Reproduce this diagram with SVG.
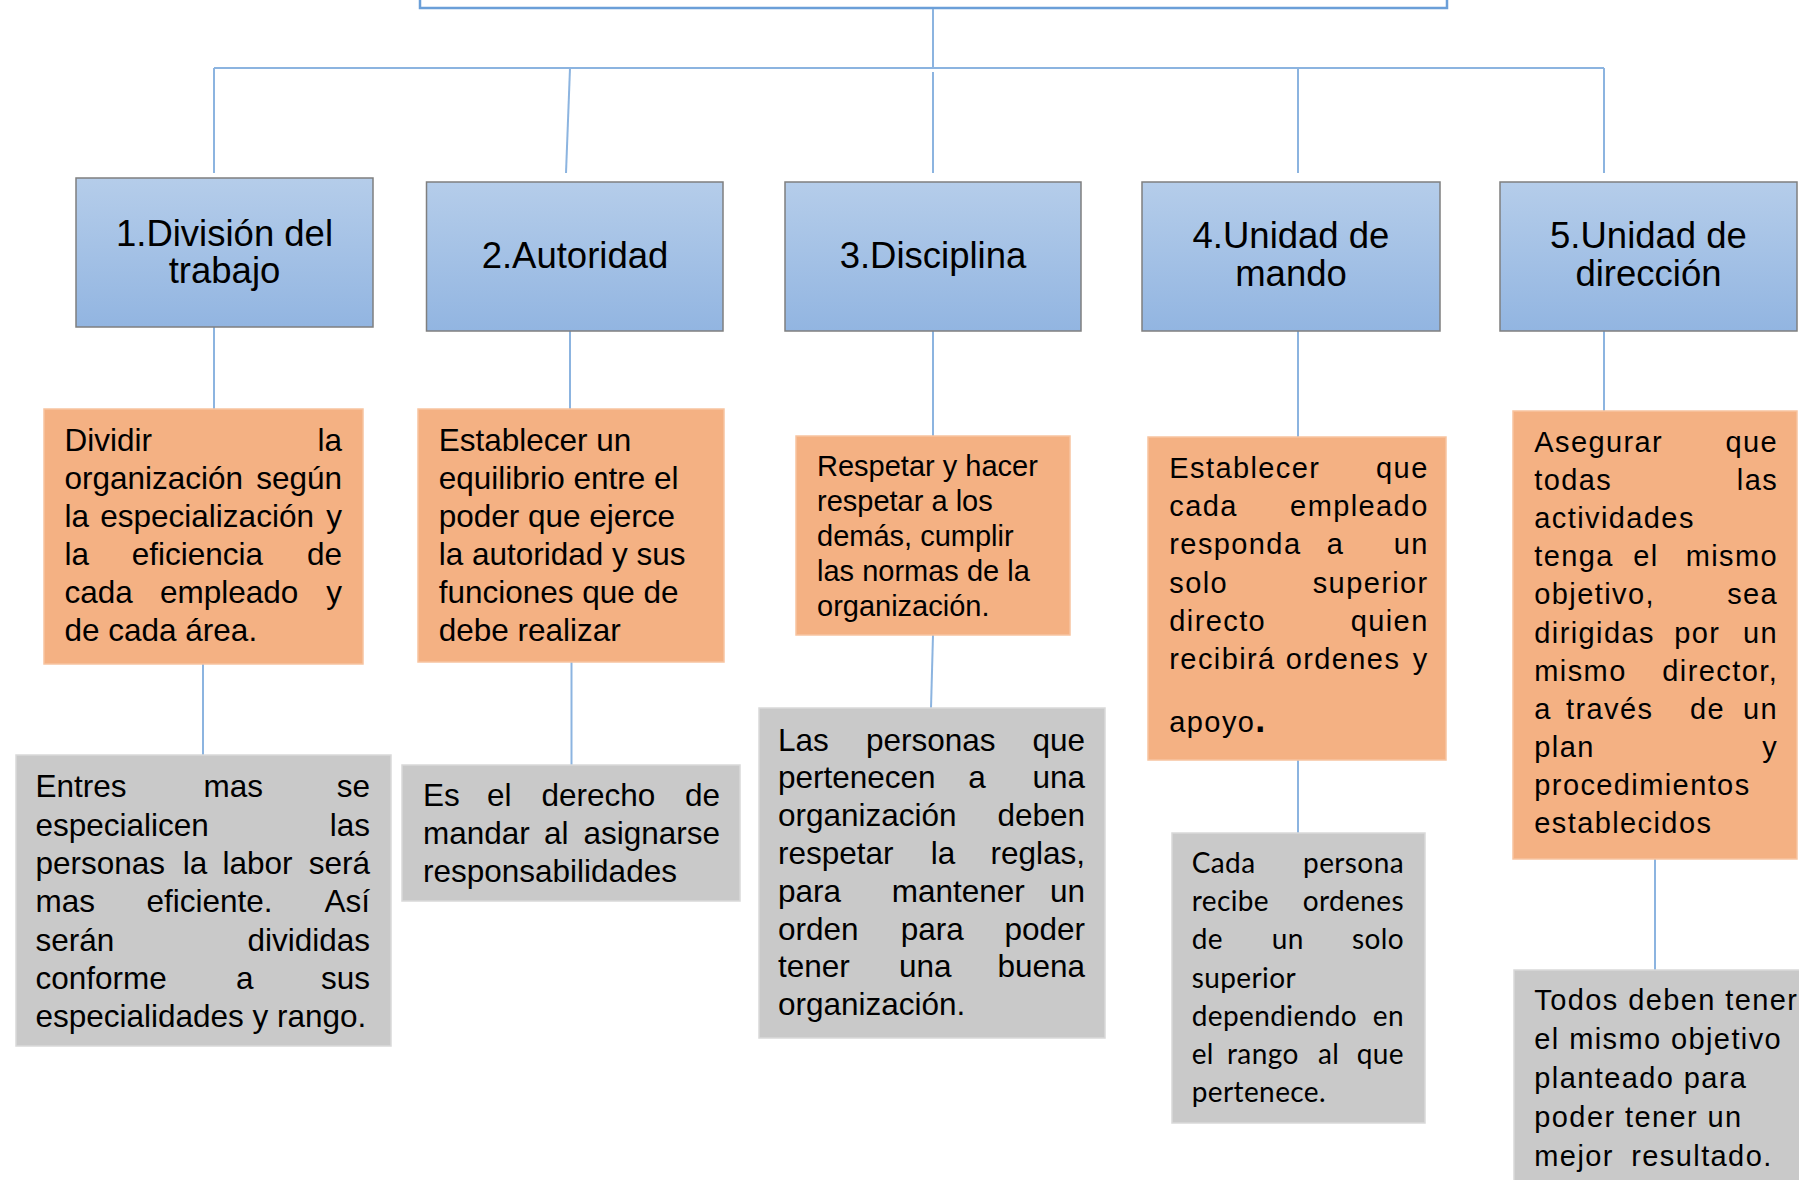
<svg xmlns="http://www.w3.org/2000/svg" width="1799" height="1180" viewBox="0 0 1799 1180">
<defs>
<linearGradient id="blue" x1="0" y1="0" x2="0" y2="1">
<stop offset="0" stop-color="#b5cdea"/>
<stop offset="1" stop-color="#92b5e1"/>
</linearGradient>
<style>
.hdrbox{fill:url(#blue);stroke:#7f7f7f;stroke-width:1.5}
.org{fill:#f4b183;stroke:#f7c4a0;stroke-width:1.5}
.gry{fill:#c9c9c9;stroke:#d9d9d9;stroke-width:1.5}
.con line{stroke:#8cb4e0;stroke-width:2}
text{font-family:"Liberation Sans",Arial,sans-serif;fill:#000}
.hdr{font-size:36.5px;text-anchor:middle}
.t32{font-size:31.5px}
.t29{font-size:29px}
.sp{letter-spacing:1.4px}
.cal{font-family:Lato,"Open Sans",sans-serif;font-size:28px;letter-spacing:0.4px}
.r{text-anchor:end}
</style>
</defs>
<rect x="0" y="0" width="1799" height="1180" fill="#ffffff"/>

<g id="root">
<rect x="420" y="-20" width="1027" height="28" fill="#ffffff" stroke="#6b9fd8" stroke-width="2.5"/>
</g>

<g id="connectors" class="con">
<line x1="933" y1="9" x2="933" y2="68"/>
<line x1="214" y1="68" x2="1604" y2="68"/>
<line x1="214" y1="68" x2="214" y2="173"/>
<line x1="570" y1="68" x2="566" y2="173"/>
<line x1="933" y1="72" x2="933" y2="173"/>
<line x1="1298" y1="68" x2="1298" y2="173"/>
<line x1="1604" y1="68" x2="1604" y2="173"/>
<line x1="214" y1="321" x2="214" y2="409"/>
<line x1="570" y1="321" x2="570" y2="409"/>
<line x1="933" y1="321" x2="933" y2="437"/>
<line x1="1298" y1="321" x2="1298" y2="437"/>
<line x1="1604" y1="321" x2="1604" y2="411"/>
<line x1="203" y1="664" x2="203" y2="755"/>
<line x1="571.5" y1="662" x2="571.5" y2="765"/>
<line x1="933" y1="635" x2="931" y2="708"/>
<line x1="1298" y1="760" x2="1298" y2="833"/>
<line x1="1655" y1="859" x2="1655" y2="970"/>
</g>

<g id="h1">
<rect class="hdrbox" x="76" y="178" width="297" height="149"/>
<text class="hdr" x="224.5" y="246">1.División del</text>
<text class="hdr" x="224.5" y="283">trabajo</text>
</g>
<g id="h2">
<rect class="hdrbox" x="426.5" y="182" width="296.5" height="149"/>
<text class="hdr" x="575" y="268">2.Autoridad</text>
</g>
<g id="h3">
<rect class="hdrbox" x="785" y="182" width="296" height="149"/>
<text class="hdr" x="933" y="268">3.Disciplina</text>
</g>
<g id="h4">
<rect class="hdrbox" x="1142" y="182" width="298" height="149"/>
<text class="hdr" x="1291" y="248">4.Unidad de</text>
<text class="hdr" x="1291" y="286">mando</text>
</g>
<g id="h5">
<rect class="hdrbox" x="1500" y="182" width="297" height="149"/>
<text class="hdr" x="1648.5" y="248">5.Unidad de</text>
<text class="hdr" x="1648.5" y="286">dirección</text>
</g>

<g id="o1">
<rect class="org" x="44" y="409" width="319" height="255"/>
<text class="t32" x="64.5" y="451">Dividir</text><text class="t32 r" x="342" y="451">la</text>
<text class="t32" x="64.5" y="489">organización</text><text class="t32 r" x="342" y="489">según</text>
<text class="t32" x="64.5" y="527">la</text><text class="t32" x="100.3" y="527">especialización</text><text class="t32 r" x="342" y="527">y</text>
<text class="t32" x="64.5" y="565">la</text><text class="t32" x="131.8" y="565">eficiencia</text><text class="t32 r" x="342" y="565">de</text>
<text class="t32" x="64.5" y="603">cada</text><text class="t32" x="160" y="603">empleado</text><text class="t32 r" x="342" y="603">y</text>
<text class="t32" x="64.5" y="641">de cada área.</text>
</g>

<g id="o2">
<rect class="org" x="418" y="409" width="306" height="253"/>
<text class="t32" x="438.7" y="451">Establecer un</text>
<text class="t32" x="438.7" y="489">equilibrio entre el</text>
<text class="t32" x="438.7" y="527">poder que ejerce</text>
<text class="t32" x="438.7" y="565">la autoridad y sus</text>
<text class="t32" x="438.7" y="603">funciones que de</text>
<text class="t32" x="438.7" y="641">debe realizar</text>
</g>

<g id="o3">
<rect class="org" x="796" y="436" width="274" height="199"/>
<text class="t29" x="817" y="476">Respetar y hacer</text>
<text class="t29" x="817" y="511">respetar a los</text>
<text class="t29" x="817" y="546">demás, cumplir</text>
<text class="t29" x="817" y="581">las normas de la</text>
<text class="t29" x="817" y="616">organización.</text>
</g>

<g id="o4">
<rect class="org" x="1148" y="437" width="298" height="323"/>
<text class="t29 sp" x="1169.3" y="477.7">Establecer</text><text class="t29 sp r" x="1428.7" y="477.7">que</text>
<text class="t29 sp" x="1169.3" y="516">cada</text><text class="t29 sp r" x="1428.7" y="516">empleado</text>
<text class="t29 sp" x="1169.3" y="554.3">responda</text><text class="t29 sp" x="1326.7" y="554.3">a</text><text class="t29 sp r" x="1428.7" y="554.3">un</text>
<text class="t29 sp" x="1169.3" y="592.6">solo</text><text class="t29 sp r" x="1428.7" y="592.6">superior</text>
<text class="t29 sp" x="1169.3" y="630.9">directo</text><text class="t29 sp r" x="1428.7" y="630.9">quien</text>
<text class="t29 sp" x="1169.3" y="669.2">recibirá</text><text class="t29 sp" x="1285.7" y="669.2">ordenes</text><text class="t29 sp r" x="1428.7" y="669.2">y</text>
<text class="t29 sp" x="1169.3" y="731.7">apoyo<tspan font-weight="bold" font-size="36">.</tspan></text>
</g>

<g id="o5">
<rect class="org" x="1513" y="411" width="284" height="448"/>
<text class="t29 sp" x="1534.3" y="451.7">Asegurar</text><text class="t29 sp r" x="1778.1" y="451.7">que</text>
<text class="t29 sp" x="1534.3" y="489.9">todas</text><text class="t29 sp r" x="1778.1" y="489.9">las</text>
<text class="t29 sp" x="1534.3" y="528">actividades</text>
<text class="t29 sp" x="1534.3" y="566.2">tenga</text><text class="t29 sp" x="1633.3" y="566.2">el</text><text class="t29 sp r" x="1778.1" y="566.2">mismo</text>
<text class="t29 sp" x="1534.3" y="604.3">objetivo,</text><text class="t29 sp r" x="1778.1" y="604.3">sea</text>
<text class="t29 sp" x="1534.3" y="642.5">dirigidas</text><text class="t29 sp" x="1674.3" y="642.5">por</text><text class="t29 sp r" x="1778.1" y="642.5">un</text>
<text class="t29 sp" x="1534.3" y="680.6">mismo</text><text class="t29 sp r" x="1778.1" y="680.6">director,</text>
<text class="t29 sp" x="1534.3" y="718.8">a</text><text class="t29 sp" x="1566" y="718.8">través</text><text class="t29 sp" x="1690" y="718.8">de</text><text class="t29 sp r" x="1778.1" y="718.8">un</text>
<text class="t29 sp" x="1534.3" y="757">plan</text><text class="t29 sp r" x="1778.1" y="757">y</text>
<text class="t29 sp" x="1534.3" y="795.1">procedimientos</text>
<text class="t29 sp" x="1534.3" y="833.2">establecidos</text>
</g>

<g id="g1">
<rect class="gry" x="16" y="755" width="375" height="291"/>
<text class="t32" x="35.4" y="797.4">Entres</text><text class="t32" x="203.6" y="797.4">mas</text><text class="t32 r" x="370" y="797.4">se</text>
<text class="t32" x="35.4" y="835.7">especialicen</text><text class="t32 r" x="370" y="835.7">las</text>
<text class="t32" x="35.4" y="874">personas</text><text class="t32" x="182.7" y="874">la</text><text class="t32" x="222.5" y="874">labor</text><text class="t32 r" x="370" y="874">será</text>
<text class="t32" x="35.4" y="912.3">mas</text><text class="t32" x="146.4" y="912.3">eficiente.</text><text class="t32 r" x="370" y="912.3">Así</text>
<text class="t32" x="35.4" y="950.6">serán</text><text class="t32 r" x="370" y="950.6">divididas</text>
<text class="t32" x="35.4" y="988.9">conforme</text><text class="t32" x="236" y="988.9">a</text><text class="t32 r" x="370" y="988.9">sus</text>
<text class="t32" x="35.4" y="1027.2">especialidades y rango.</text>
</g>

<g id="g2">
<rect class="gry" x="402" y="765" width="338" height="136"/>
<text class="t32" x="423" y="806.3">Es</text><text class="t32" x="487" y="806.3">el</text><text class="t32" x="541.5" y="806.3">derecho</text><text class="t32 r" x="720" y="806.3">de</text>
<text class="t32" x="423" y="844.3">mandar</text><text class="t32" x="544" y="844.3">al</text><text class="t32 r" x="720" y="844.3">asignarse</text>
<text class="t32" x="423" y="882.3">responsabilidades</text>
</g>

<g id="g3">
<rect class="gry" x="759" y="708" width="346" height="330"/>
<text class="t32" x="778" y="750.5">Las</text><text class="t32" x="866" y="750.5">personas</text><text class="t32 r" x="1085" y="750.5">que</text>
<text class="t32" x="778" y="788.3">pertenecen</text><text class="t32" x="968.3" y="788.3">a</text><text class="t32 r" x="1085" y="788.3">una</text>
<text class="t32" x="778" y="826.1">organización</text><text class="t32 r" x="1085" y="826.1">deben</text>
<text class="t32" x="778" y="863.9">respetar</text><text class="t32" x="930.7" y="863.9">la</text><text class="t32 r" x="1085" y="863.9">reglas,</text>
<text class="t32" x="778" y="901.7">para</text><text class="t32" x="891.7" y="901.7">mantener</text><text class="t32 r" x="1085" y="901.7">un</text>
<text class="t32" x="778" y="939.5">orden</text><text class="t32" x="900.7" y="939.5">para</text><text class="t32 r" x="1085" y="939.5">poder</text>
<text class="t32" x="778" y="977.3">tener</text><text class="t32" x="899" y="977.3">una</text><text class="t32 r" x="1085" y="977.3">buena</text>
<text class="t32" x="778" y="1015.1">organización.</text>
</g>

<g id="g4">
<rect class="gry" x="1172" y="833" width="253" height="290"/>
<text class="cal" x="1191.7" y="873.3">Cada</text><text class="cal r" x="1404" y="873.3">persona</text>
<text class="cal" x="1191.7" y="911.4">recibe</text><text class="cal r" x="1404" y="911.4">ordenes</text>
<text class="cal" x="1191.7" y="949.4">de</text><text class="cal" x="1271.7" y="949.4">un</text><text class="cal r" x="1404" y="949.4">solo</text>
<text class="cal" x="1191.7" y="987.5">superior</text>
<text class="cal" x="1191.7" y="1025.6">dependiendo</text><text class="cal r" x="1404" y="1025.6">en</text>
<text class="cal" x="1191.7" y="1063.6">el</text><text class="cal" x="1227" y="1063.6">rango</text><text class="cal" x="1318" y="1063.6">al</text><text class="cal r" x="1404" y="1063.6">que</text>
<text class="cal" x="1191.7" y="1101.7">pertenece.</text>
</g>

<g id="g5">
<rect class="gry" x="1514" y="970" width="290" height="220"/>
<text class="t29 sp" x="1534.3" y="1010">Todos deben tener</text>
<text class="t29 sp" x="1534.3" y="1049">el mismo objetivo</text>
<text class="t29 sp" x="1534.3" y="1088">planteado para</text>
<text class="t29 sp" x="1534.3" y="1127">poder tener un</text>
<text class="t29 sp" x="1534.3" y="1165.5">mejor<tspan dx="8"> resultado.</tspan></text>
</g>
</svg>
